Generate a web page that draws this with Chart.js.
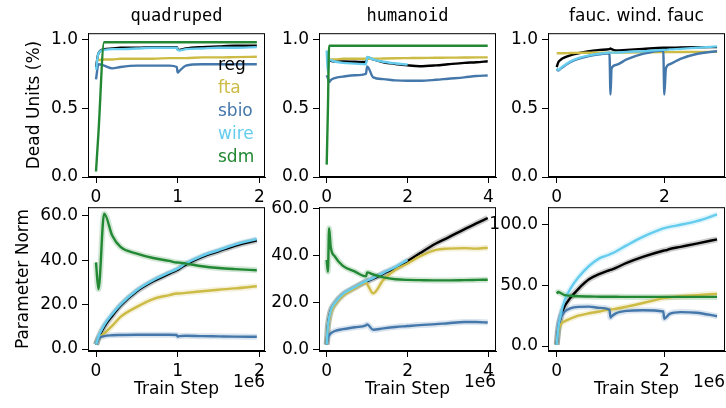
<!DOCTYPE html>
<html>
<head>
<meta charset="utf-8">
<script src="https://cdn.jsdelivr.net/npm/chart.js@4.4.1/dist/chart.umd.min.js"></script>
<style>
    html, body { margin: 0; padding: 0; background: #fff; }
    #figure { position: relative; width: 726px; height: 408px; overflow: hidden; font-family: "DejaVu Sans", sans-serif; font-size: 17px; color: #000; }
    #figure canvas { position: absolute; }
    .label { position: absolute; white-space: nowrap; line-height: 1; transform: translate(-50%, -50%); }
    .label-y { transform: translate(-50%, -50%) rotate(-90deg); }
    .mono { font-family: "DejaVu Sans Mono", monospace; }
    .offset { position: absolute; white-space: nowrap; line-height: 1; transform: translate(-100%, -50%); }
    .legend { position: absolute; left: 218px; top: 53px; line-height: 23px; }
</style>
</head>
<body>
<div id="figure"></div>
<script>
// ---- series ----
const seriesNames = ["reg", "fta", "sbio", "wire", "sdm"];
const seriesColors = ["#000000", "#CCBB44", "#4477AA", "#66CCEE", "#228833"];

// ---- quadruped (train step in 1e6) ----
const quadSteps = [0, 0.03, 0.1, 0.2, 0.3, 0.5, 0.7, 0.9, 0.99, 1.0, 1.02, 1.1, 1.3, 1.5, 1.7, 1.97];
const quadDeadReg = [0.80, 0.90, 0.93, 0.935, 0.94, 0.94, 0.945, 0.945, 0.945, 0.93, 0.925, 0.935, 0.945, 0.95, 0.955, 0.955];
const quadDeadFta = [0.85, 0.85, 0.855, 0.855, 0.86, 0.86, 0.86, 0.865, 0.865, 0.865, 0.865, 0.865, 0.87, 0.87, 0.872, 0.875];
const quadDeadSbio = [0.71, 0.82, 0.81, 0.79, 0.80, 0.81, 0.81, 0.81, 0.80, 0.76, 0.77, 0.81, 0.82, 0.82, 0.82, 0.82];
const quadDeadWire = [0.78, 0.90, 0.925, 0.93, 0.93, 0.935, 0.94, 0.94, 0.94, 0.925, 0.92, 0.93, 0.935, 0.94, 0.94, 0.945];
const quadDeadSdm = [0.04, 0.32, 0.98, 0.98, 0.98, 0.98, 0.98, 0.98, 0.98, 0.98, 0.98, 0.98, 0.98, 0.98, 0.98, 0.98];
const quadNormReg = [2, 5, 10, 15, 19.5, 26, 30.5, 34, 35.5, 35.7, 36.2, 38, 41.5, 44, 46.5, 49];
const quadNormFta = [2, 4.5, 7, 10.5, 14.5, 19, 22.5, 24.3, 25, 25, 25, 25.3, 26, 26.7, 27.3, 28.3];
const quadNormSbio = [2, 4.5, 5.8, 6.2, 6.3, 6.4, 6.4, 6.4, 6.3, 5.6, 5.8, 6.0, 5.8, 5.7, 5.6, 5.5];
const quadNormWire = [2, 5.5, 10.8, 15.8, 20, 26.5, 31, 34.5, 36, 36.2, 36.6, 38.5, 42, 44.5, 47, 49.5];
const quadNormSdm = [39, 27, 61, 51, 46, 43, 41, 39.7, 39, 39, 38.9, 38.5, 37.3, 36.5, 36, 35.5];

// ---- humanoid ----
const humSteps = [0, 0.03, 0.06, 0.1, 0.2, 0.4, 0.7, 0.97, 1.0, 1.15, 1.4, 1.7, 2.0, 2.3, 2.7, 3.0, 3.4, 3.7, 3.98];
const humDeadReg = [0.85, 0.85, 0.85, 0.845, 0.84, 0.84, 0.838, 0.836, 0.87, 0.855, 0.835, 0.822, 0.812, 0.806, 0.812, 0.82, 0.83, 0.835, 0.842];
const humDeadFta = [0.85, 0.85, 0.85, 0.855, 0.855, 0.86, 0.86, 0.86, 0.86, 0.86, 0.862, 0.864, 0.865, 0.866, 0.867, 0.868, 0.869, 0.87, 0.87];
const humDeadSbio = [0.74, 0.72, 0.69, 0.705, 0.72, 0.73, 0.74, 0.75, 0.805, 0.725, 0.712, 0.703, 0.70, 0.70, 0.707, 0.715, 0.725, 0.735, 0.738];
const humDeadWire = [0.92, 0.76, 0.855, 0.85, 0.84, 0.83, 0.825, 0.82, 0.873, 0.855, 0.838, 0.826, 0.818, null, null, null, null, null, null];
const humDeadSdm = [0.09, 0.49, 0.955, 0.955, 0.955, 0.955, 0.955, 0.955, 0.955, 0.955, 0.955, 0.955, 0.955, 0.955, 0.955, 0.955, 0.955, 0.955, 0.955];
const humNormReg = [2, 10, 13.5, 16.5, 19.5, 23.3, 26.3, 28.8, 29, 30, 32.2, 34.5, 37.5, 40.8, 45, 47.5, 51, 53.5, 55.8];
const humNormFta = [2, 9, 12.5, 15.5, 19, 22.8, 26, 28.3, 27.8, 23.8, 29.5, 33.8, 36.5, 39.5, 42.3, 42.8, 43, 42.8, 43.2];
const humNormSbio = [2, 5, 6, 6.8, 7.8, 8.6, 9.4, 10.2, 10.6, 8.3, 8.9, 9.5, 9.9, 10.3, 10.7, 11.1, 11.6, 11.6, 11.4];
const humNormWire = [2, 10, 13.5, 16.5, 19.7, 23.5, 26.5, 29, 29.2, 30.3, 32.5, 35, 38, null, null, null, null, null, null];
const humNormSdm = [38, 33, 51.5, 43.5, 39.5, 35.5, 33, 31, 32.7, 31.8, 30.6, 29.8, 29.5, 29.4, 29.3, 29.3, 29.4, 29.5, 29.6];

// ---- fauc. wind. fauc ----
const faucSteps = [0, 0.03, 0.08, 0.15, 0.25, 0.4, 0.6, 0.8, 0.98, 1.0, 1.02, 1.1, 1.3, 1.6, 1.98, 2.0, 2.03, 2.1, 2.3, 2.6, 2.98];
const faucDeadReg = [0.80, 0.835, 0.855, 0.87, 0.885, 0.90, 0.915, 0.925, 0.93, 0.935, 0.93, 0.92, 0.925, 0.932, 0.94, 0.94, 0.94, 0.94, 0.942, 0.944, 0.945];
const faucDeadFta = [0.90, 0.90, 0.90, 0.90, 0.902, 0.903, 0.904, 0.905, 0.905, 0.905, 0.905, 0.905, 0.906, 0.907, 0.908, 0.908, 0.908, 0.908, 0.909, 0.91, 0.91];
const faucDeadSbio = [0.785, 0.775, 0.79, 0.81, 0.835, 0.86, 0.88, 0.893, 0.90, 0.60, 0.79, 0.815, 0.855, 0.895, 0.92, 0.60, 0.79, 0.82, 0.86, 0.895, 0.915];
const faucDeadWire = [0.79, 0.78, 0.795, 0.815, 0.84, 0.865, 0.885, 0.897, 0.905, 0.905, 0.905, 0.905, 0.91, 0.915, 0.925, 0.925, 0.925, 0.928, 0.932, 0.94, 0.95];
const faucNormReg = [1, 14, 25, 33, 39.5, 47, 55, 59.5, 62.5, 62.8, 63, 64.5, 68.5, 73.5, 78.6, 78.8, 79, 80, 81.8, 84.5, 88];
const faucNormFta = [1, 12, 18, 20.5, 22.5, 25, 27, 28.5, 30, 30, 30.2, 30.7, 32.5, 35.5, 39.5, 39.7, 39.8, 40.2, 41, 42, 43];
const faucNormSbio = [1, 16, 24, 28.5, 31, 32.3, 32.5, 31.5, 30, 23.5, 24.5, 27, 29, 29.5, 28.5, 22.5, 23.5, 26.5, 28, 27.5, 24.6];
const faucNormWire = [1, 15, 27, 38, 47, 56.5, 66, 72.5, 75.5, 76, 76.3, 78, 83, 90, 97, 97.3, 97.6, 98.3, 100, 103, 108.5];
const faucNormSdm = [43.3, 44.5, 43.5, 42, 41.5, 41, 40.8, 40.7, 40.6, 40.6, 40.6, 40.6, 40.5, 40.5, 40.5, 40.5, 40.5, 40.5, 40.5, 40.5, 40.5];

// ---- ticks ----
const quadStepTicks = [0, 1, 2];
const humStepTicks = [0, 2, 4];
const faucStepTicks = [0, 2];
const deadTicks = [0, 0.5, 1.0];
const normTicks = [0, 20, 40, 60];
const faucNormTicks = [0, 50, 100];

// ===========================================================================
const PAD_L = 80, PAD_R = 12, PAD_T = 14, PAD_B = 34;
const FONT = { family: "DejaVu Sans", size: 17 };

const alpha = (hex, a) => {
    const n = parseInt(hex.slice(1), 16);
    return `rgba(${n >> 16}, ${(n >> 8) & 255}, ${n & 255}, ${a})`;
};

const toPoints = (steps, values) =>
    steps.map((s, i) => ({ x: s, y: values[i] })).filter(p => p.y !== null);

// box around the plot area (matplotlib style)
const frame = {
    id: "frame",
    afterDraw(chart) {
        const { ctx, chartArea: a } = chart;
        ctx.save();
        ctx.strokeStyle = "#000";
        ctx.lineWidth = 1;
        ctx.strokeRect(a.left + 0.5, a.top + 0.5, a.right - a.left - 1, a.bottom - a.top - 1);
        ctx.restore();
    }
};

const axis = (min, max, ticks, fmt) => ({
    type: "linear",
    min, max,
    afterBuildTicks: s => { s.ticks = ticks.map(v => ({ value: v })); },
    ticks: { font: FONT, color: "#000", padding: 4, callback: fmt },
    grid: { display: true, drawOnChartArea: false, drawTicks: true, tickLength: 6, tickColor: "#000", tickWidth: 1 },
    border: { display: true, color: "#000", width: 1 }
});

const panel = (box, steps, series, xr, yr, xTicks, yTicks, yFmt, halo) => {
    const [left, top, width, height] = box;
    const canvas = document.createElement("canvas");
    const w = width + PAD_L + PAD_R, h = height + PAD_T + PAD_B;
    canvas.width = w; canvas.height = h;
    canvas.style.left = (left - PAD_L) + "px";
    canvas.style.top = (top - PAD_T) + "px";
    canvas.style.width = w + "px";
    canvas.style.height = h + "px";
    document.getElementById("figure").appendChild(canvas);

    const datasets = [];
    series.forEach((values, i) => {
        if (!values) return;
        const data = toPoints(steps, values);
        if (halo) {
            datasets.push({ data, borderColor: alpha(seriesColors[i], 0.2), borderWidth: 6, order: 20 });
        }
        datasets.push({ data, borderColor: seriesColors[i], borderWidth: 2.4, order: 10 - i });
    });

    const x = axis(xr[0], xr[1], xTicks, v => String(v));
    x.afterFit = s => { s.height = PAD_B; };
    const y = axis(yr[0], yr[1], yTicks, yFmt);
    y.afterFit = s => { s.width = PAD_L; };

    new Chart(canvas, {
        type: "line",
        data: { datasets },
        options: {
            responsive: false,
            animation: false,
            devicePixelRatio: 1,
            layout: { padding: { top: PAD_T, right: PAD_R, left: 0, bottom: 0 } },
            plugins: { legend: { display: false }, tooltip: { enabled: false } },
            elements: { point: { radius: 0 }, line: { cubicInterpolationMode: "monotone" } },
            scales: { x, y }
        },
        plugins: [frame]
    });
};

const text = (str, x, y, cls) => {
    const el = document.createElement("div");
    el.className = cls;
    el.style.left = x + "px";
    el.style.top = y + "px";
    el.textContent = str;
    document.getElementById("figure").appendChild(el);
    return el;
};

// ===========================================================================
const fmt1 = v => v.toFixed(1);
const TOP = [33, 144], BOT = [207, 144];
const COLS = [88, 319, 548], W = 177;

panel([COLS[0], TOP[0], W, TOP[1]], quadSteps,
    [quadDeadReg, quadDeadFta, quadDeadSbio, quadDeadWire, quadDeadSdm],
    [-0.098, 2.07], [0, 1.046], quadStepTicks, deadTicks, fmt1, false);
panel([COLS[1], TOP[0], W, TOP[1]], humSteps,
    [humDeadReg, humDeadFta, humDeadSbio, humDeadWire, humDeadSdm],
    [-0.19, 4.185], [0, 1.046], humStepTicks, deadTicks, fmt1, false);
panel([COLS[2], TOP[0], W, TOP[1]], faucSteps,
    [faucDeadReg, faucDeadFta, faucDeadSbio, faucDeadWire, null],
    [-0.162, 3.128], [0, 1.046], faucStepTicks, deadTicks, fmt1, false);

panel([COLS[0], BOT[0], W, BOT[1]], quadSteps,
    [quadNormReg, quadNormFta, quadNormSbio, quadNormWire, quadNormSdm],
    [-0.098, 2.07], [-0.9, 63.9], quadStepTicks, normTicks, fmt1, true);
panel([COLS[1], BOT[0], W, BOT[1]], humSteps,
    [humNormReg, humNormFta, humNormSbio, humNormWire, humNormSdm],
    [-0.19, 4.185], [-0.7, 60.4], humStepTicks, normTicks, fmt1, true);
panel([COLS[2], BOT[0], W, BOT[1]], faucSteps,
    [faucNormReg, faucNormFta, faucNormSbio, faucNormWire, faucNormSdm],
    [-0.162, 3.128], [-4.1, 114.5], faucStepTicks, faucNormTicks, fmt1, true);

// titles and axis labels
text("quadruped", 176.5, 15, "label mono");
text("humanoid", 407.5, 15, "label mono");
text("fauc. wind. fauc", 636.5, 15, "label");
text("Dead Units (%)", 33, 105, "label label-y");
text("Parameter Norm", 22, 279, "label label-y");
COLS.forEach(c => {
    text("Train Step", c + W / 2, 388, "label");
    text("1e6", c + W, 381, "offset");
});

// legend (text only, coloured)
const legend = document.createElement("div");
legend.className = "legend";
seriesNames.forEach((name, i) => {
    const row = document.createElement("div");
    row.style.color = seriesColors[i];
    row.textContent = name;
    legend.appendChild(row);
});
document.getElementById("figure").appendChild(legend);
</script>
</body>
</html>
